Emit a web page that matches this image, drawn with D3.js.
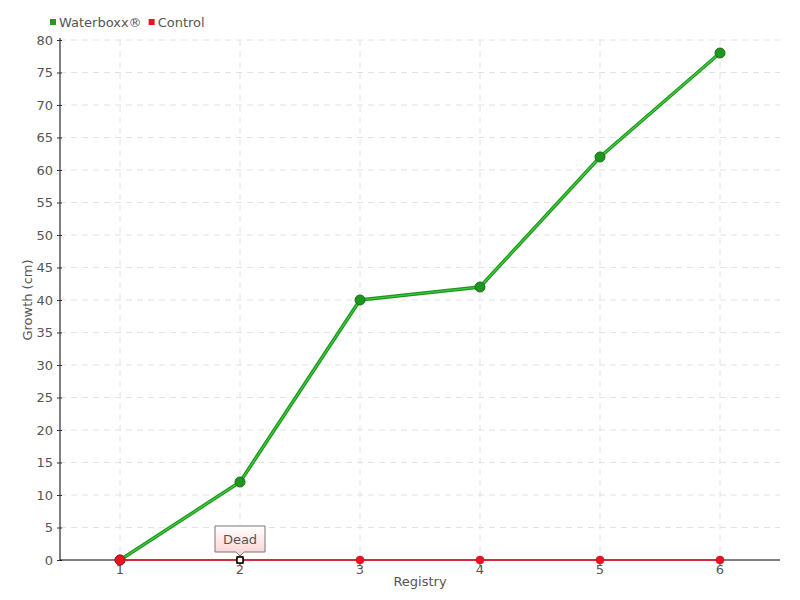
<!DOCTYPE html>
<html><head><meta charset="utf-8">
<script src="https://cdn.jsdelivr.net/npm/d3@7/dist/d3.min.js"></script>
<style>
body{margin:0;background:#fff;}
text{font-family:"DejaVu Sans",sans-serif;fill:#555;}
</style></head><body>
<svg id="c" width="800" height="600"></svg>
<script>
const categories = ["1","2","3","4","5","6"];
const waterboxx = [0,12,40,42,62,78];
const control = [0,0,0,0,0,0];
const yTicks = d3.range(0,81,5);
const seriesNames = ["Waterboxx®","Control"];
const annotations = [{series:"Control", index:1, label:"Dead"}];
const FONT = '"DejaVu Sans",sans-serif';

const svg = d3.select("#c");
const m = {l:60,r:20,t:40,b:40};
const W = 800, H = 600;
const x = d3.scaleBand().domain(categories).range([m.l, W-m.r]);
const xc = d => x(d) + x.bandwidth()/2;
const y = d3.scaleLinear().domain([0,80]).range([H-m.b, m.t]);

const defs = svg.append("defs");
const g1 = defs.append("linearGradient").attr("id","tip").attr("x1",0).attr("y1",0).attr("x2",0).attr("y2",1);
g1.append("stop").attr("offset","0%").attr("stop-color","#ffffff");
g1.append("stop").attr("offset","100%").attr("stop-color","#fcd0d0");

// grid
svg.append("g").selectAll("line").data(yTicks.filter(d=>d>0)).join("line")
  .attr("x1",m.l).attr("x2",W-m.r).attr("y1",d=>y(d)).attr("y2",d=>y(d))
  .attr("stroke","#e2e2e2").attr("stroke-dasharray","6,5");
svg.append("g").selectAll("line").data(categories).join("line")
  .attr("x1",d=>xc(d)).attr("x2",d=>xc(d)).attr("y1",m.t).attr("y2",H-m.b)
  .attr("stroke","#e2e2e2").attr("stroke-dasharray","6,5");

// y axis
const ya = svg.append("g").attr("transform",`translate(${m.l},0)`)
  .call(d3.axisLeft(y).tickValues(yTicks).tickSize(3).tickPadding(4));
ya.select(".domain").attr("stroke","#000").attr("d",`M0,${m.t-2}V${H-m.b}`);
ya.selectAll(".tick line").attr("x2",2).attr("x1",-3).attr("stroke","#333");
ya.selectAll(".tick text").attr("font-size",13).attr("fill","#555").style("font-family",FONT);

// x axis
const xa = svg.append("g").attr("transform",`translate(0,${H-m.b})`)
  .call(d3.axisBottom(x).tickSize(6).tickPadding(0));
xa.select(".domain").attr("stroke","#000").attr("d",`M${m.l},0H${W-m.r}`);
xa.selectAll(".tick line").attr("stroke","#555");
xa.selectAll(".tick text").attr("font-size",13).attr("fill","#555").attr("dy","0.6em").style("font-family",FONT);

// labels
svg.append("text").attr("x",(m.l+W-m.r)/2).attr("y",586).attr("text-anchor","middle").attr("font-size",13).text("Registry");
svg.append("text").attr("transform",`translate(32,${(m.t+H-m.b)/2}) rotate(-90)`).attr("text-anchor","middle").attr("font-size",13).text("Growth (cm)");

// lines
const line = d3.line().x((d,i)=>xc(categories[i])).y(d=>y(d));
svg.append("path").datum(control).attr("d",line).attr("fill","none").attr("stroke","#ee1122").attr("stroke-width",1.5);
svg.append("path").datum(waterboxx).attr("d",line).attr("fill","none").attr("stroke","#1a961a").attr("stroke-width",3.5);
svg.append("path").datum(waterboxx).attr("d",line).attr("fill","none").attr("stroke","#44cc44").attr("stroke-width",1.2);

// points
svg.append("g").selectAll("circle").data(control).join("circle")
  .attr("cx",(d,i)=>xc(categories[i])).attr("cy",d=>y(d)).attr("r",4)
  .attr("fill","#ee1122").attr("stroke","#cc1020").attr("stroke-width",0.5);
svg.append("g").selectAll("circle").data(waterboxx).join("circle")
  .attr("cx",(d,i)=>xc(categories[i])).attr("cy",d=>y(d)).attr("r",5)
  .attr("fill","#1e961e").attr("stroke","#157015").attr("stroke-width",1);
svg.append("circle").attr("cx",xc(categories[0])).attr("cy",y(control[0])).attr("r",5).attr("fill","#ee1122").attr("stroke","#c01020");

// annotation
annotations.forEach(a=>{
  const vals = a.series==="Control"?control:waterboxx;
  const cx = xc(categories[a.index]), cy = y(vals[a.index]);
  svg.append("rect").attr("x",cx-3).attr("y",cy-3).attr("width",6).attr("height",6).attr("fill","#fff").attr("stroke","#000").attr("stroke-width",1.5);
  const bw=50, bh=26, by=cy-34;
  svg.append("path").attr("d",`M${cx-bw/2},${by}H${cx+bw/2}V${by+bh}H${cx+4}L${cx},${by+bh+4}L${cx-4},${by+bh}H${cx-bw/2}Z`)
    .attr("fill","url(#tip)").attr("stroke","#777").attr("stroke-width",1);
  svg.append("text").attr("x",cx).attr("y",by+bh/2+5).attr("text-anchor","middle").attr("font-size",13).text(a.label);
});

// legend
const colors = ["#1e9e1e","#ee1122"];
let lx = 50;
seriesNames.forEach((n,i)=>{
  svg.append("rect").attr("x",lx).attr("y",19).attr("width",6).attr("height",6).attr("fill",colors[i]);
  const t = svg.append("text").attr("x",lx+9).attr("y",27).attr("font-size",13).text(n);
  lx += 9 + t.node().getComputedTextLength() + 7;
});
</script></body></html>
